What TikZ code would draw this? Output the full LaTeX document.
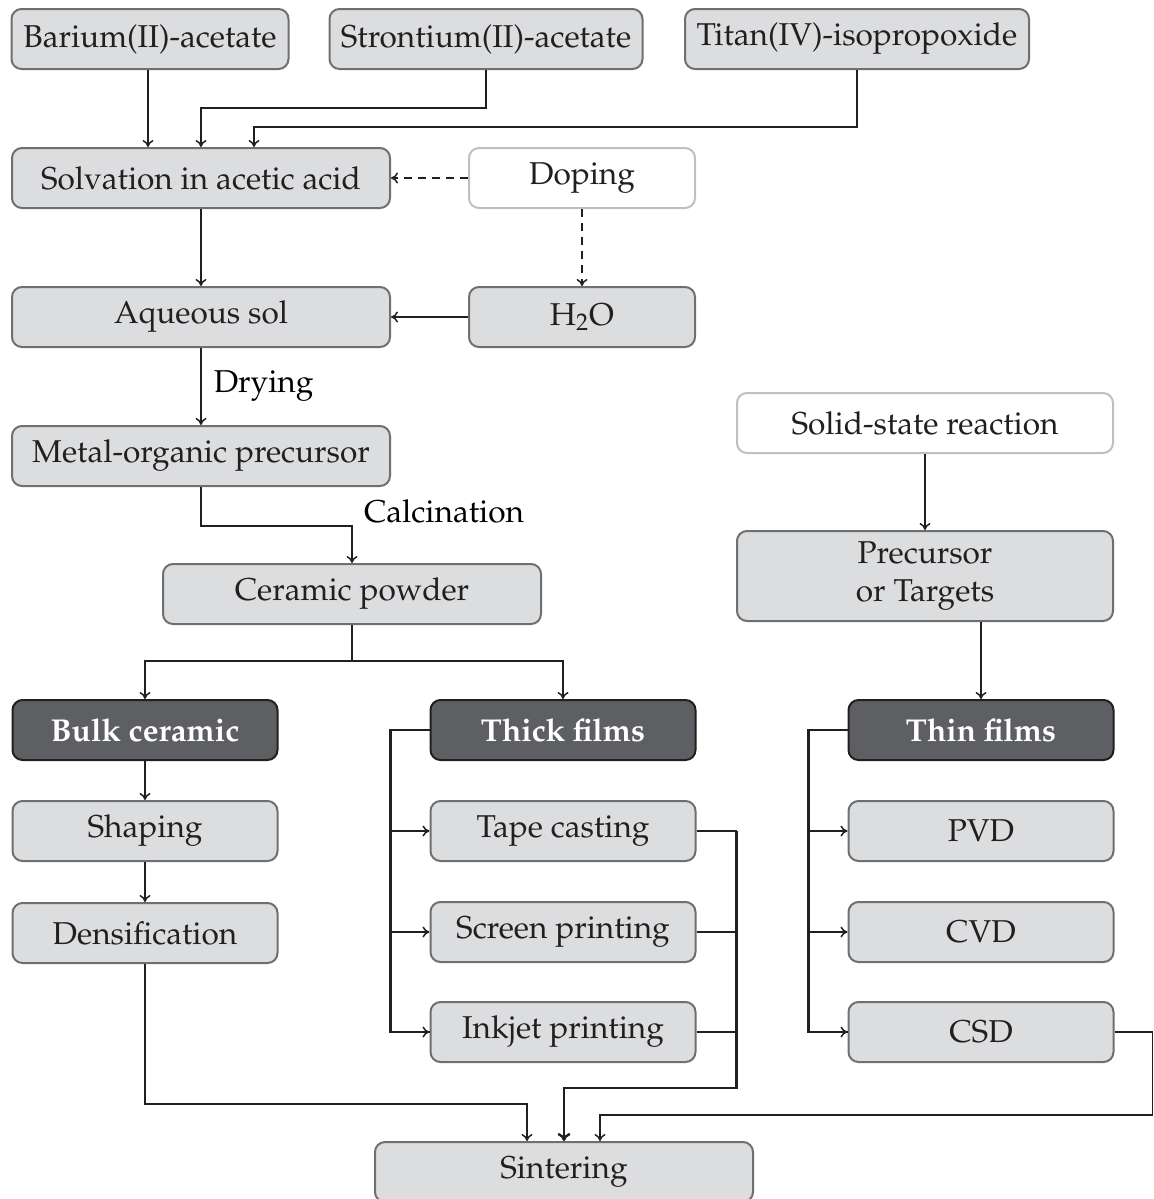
\documentclass[tikz,border=0pt]{standalone}
\usepackage[T1]{fontenc}
\usepackage{mathpazo}
\usetikzlibrary{arrows.meta, positioning, calc}
\definecolor{BoxGray}{RGB}{220,221,222}
\definecolor{EdgeGray}{RGB}{110,111,113}
\definecolor{DarkGray}{RGB}{94,95,99}
\definecolor{PaleEdge}{RGB}{190,191,193}
\definecolor{InkBlack}{RGB}{35,31,32}

\begin{document}
\begin{tikzpicture}[
  x=0.5pt, y=-0.5pt,
  font=\fontsize{15.8}{19}\selectfont,
  box/.style={draw=EdgeGray, line width=1pt, rounded corners=5pt, fill=BoxGray, text=InkBlack, minimum height=30pt, align=center, inner sep=0pt},
  plain/.style={box, fill=white, draw=PaleEdge},
  dark/.style={box, fill=DarkGray, draw=InkBlack, text=white, font=\fontsize{15.8}{19}\selectfont\bfseries},
  wide/.style={minimum width=189pt},
  mid/.style={minimum width=132.5pt},
  narrow/.style={minimum width=113pt},
  arr/.style={draw=InkBlack, line width=0.75pt, -{To[length=3.5pt, width=5.5pt]}},
  link/.style={draw=InkBlack, line width=0.75pt},
  bus/.style={draw=InkBlack, line width=1.2pt},
  dashline/.style={dash pattern=on 4pt off 3pt}
]
  \useasboundingbox (0,0) rectangle (1154,1199);

  % Starting materials
  \node[box, minimum width=138.5pt] (barium) at (150,39) {Barium(II)-acetate};
  \node[box, minimum width=156.5pt] (strontium) at (486,39) {Strontium(II)-acetate};
  \node[box, minimum width=172pt] (titan) at (857,39) {Titan(IV)-isopropoxide};

  % Sol-gel route
  \node[box, wide] (solv) at (201,178) {Solvation in acetic acid};
  \node[plain, narrow] (doping) at (582,178) {Doping};
  \node[box, wide] (sol) at (201,317) {Aqueous sol};
  \node[box, narrow] (water) at (582,317) {H$_2$O};
  \node[box, wide] (precursor) at (201,456) {Metal-organic precursor};
  \node[box, wide] (powder) at (352,594) {Ceramic powder};
  \node (calc) at (444,511) {Calcination};

  % Solid-state route
  \node[plain, minimum width=188pt] (ssr) at (925,423) {Solid-state reaction};
  \node[box, minimum width=188pt, minimum height=45pt] (targets) at (925,576) {Precursor\\or Targets};

  % Products
  \node[dark, mid] (bulk) at (145,730) {Bulk ceramic};
  \node[dark, mid] (thick) at (563,730) {Thick films};
  \node[dark, mid] (thin) at (981,730) {Thin films};

  \node[box, mid] (shaping) at (145,831) {Shaping};
  \node[box, mid] (densif) at (145,933) {Densification};
  \node[box, mid] (tape) at (563,831) {Tape casting};
  \node[box, mid] (screen) at (563,932) {Screen printing};
  \node[box, mid] (inkjet) at (563,1032) {Inkjet printing};
  \node[box, mid] (pvd) at (981,831) {PVD};
  \node[box, mid] (cvd) at (981,932) {CVD};
  \node[box, mid] (csd) at (981,1032) {CSD};

  \node[box, wide] (sinter) at (564,1172) {Sintering};

  % Connectors
  \draw[arr] (barium.south -| 148,0) -- (solv.north -| 148,0);
  \draw[arr] (strontium.south) -- ++(0,38) -| (solv.north);
  \draw[arr] (titan.south) -- ++(0,57) -| ($(solv.north)+(53,0)$);
  \draw[arr, dashline] (doping.west) -- (solv.east);
  \draw[arr, dashline] (doping.south) -- (water.north);
  \draw[arr] (water.west) -- (sol.east);
  \draw[arr] (solv.south) -- (sol.north);
  \draw[arr] (sol.south) -- node[right, inner sep=6pt] {Drying} (precursor.north);
  \draw[arr] (precursor.south) -- ++(0,39) -| (powder.north);
  \draw[arr] (powder.south) -- ++(0,36) -| (bulk.north);
  \draw[arr] (powder.south) -- ++(0,36) -| (thick.north);
  \draw[arr] (ssr.south) -- (targets.north);
  \draw[arr] (targets.south -| thin.north) -- (thin.north);
  \draw[arr] (bulk.south) -- (shaping.north);
  \draw[arr] (shaping.south) -- (densif.north);

  \foreach \n in {tape, screen, inkjet}
    \draw[arr] (thick.west) -- ++(-39,0) |- (\n.west);
  \draw[bus] (thick.west) -- ++(-39,0) |- (inkjet.west);
  \foreach \n in {pvd, cvd, csd}
    \draw[arr] (thin.west) -- ++(-39,0) |- (\n.west);
  \draw[bus] (thin.west) -- ++(-39,0) |- (csd.west);

  \draw[link] (tape.east) -- ++(40,0) coordinate (tc);
  \draw[link] (screen.east) -- (screen.east -| tc);
  \draw[link] (inkjet.east) -- (inkjet.east -| tc);
  \draw[bus, -{To[length=4pt, width=6.5pt]}] (tc) -- ++(0,257) -| (sinter.north);
  \draw[arr] (densif.south) -- ++(0,140) -| ($(sinter.north)+(-37,0)$);
  \draw[arr] (csd.east) -| ++(38,83) -| ($(sinter.north)+(36,0)$);
\end{tikzpicture}
\end{document}
